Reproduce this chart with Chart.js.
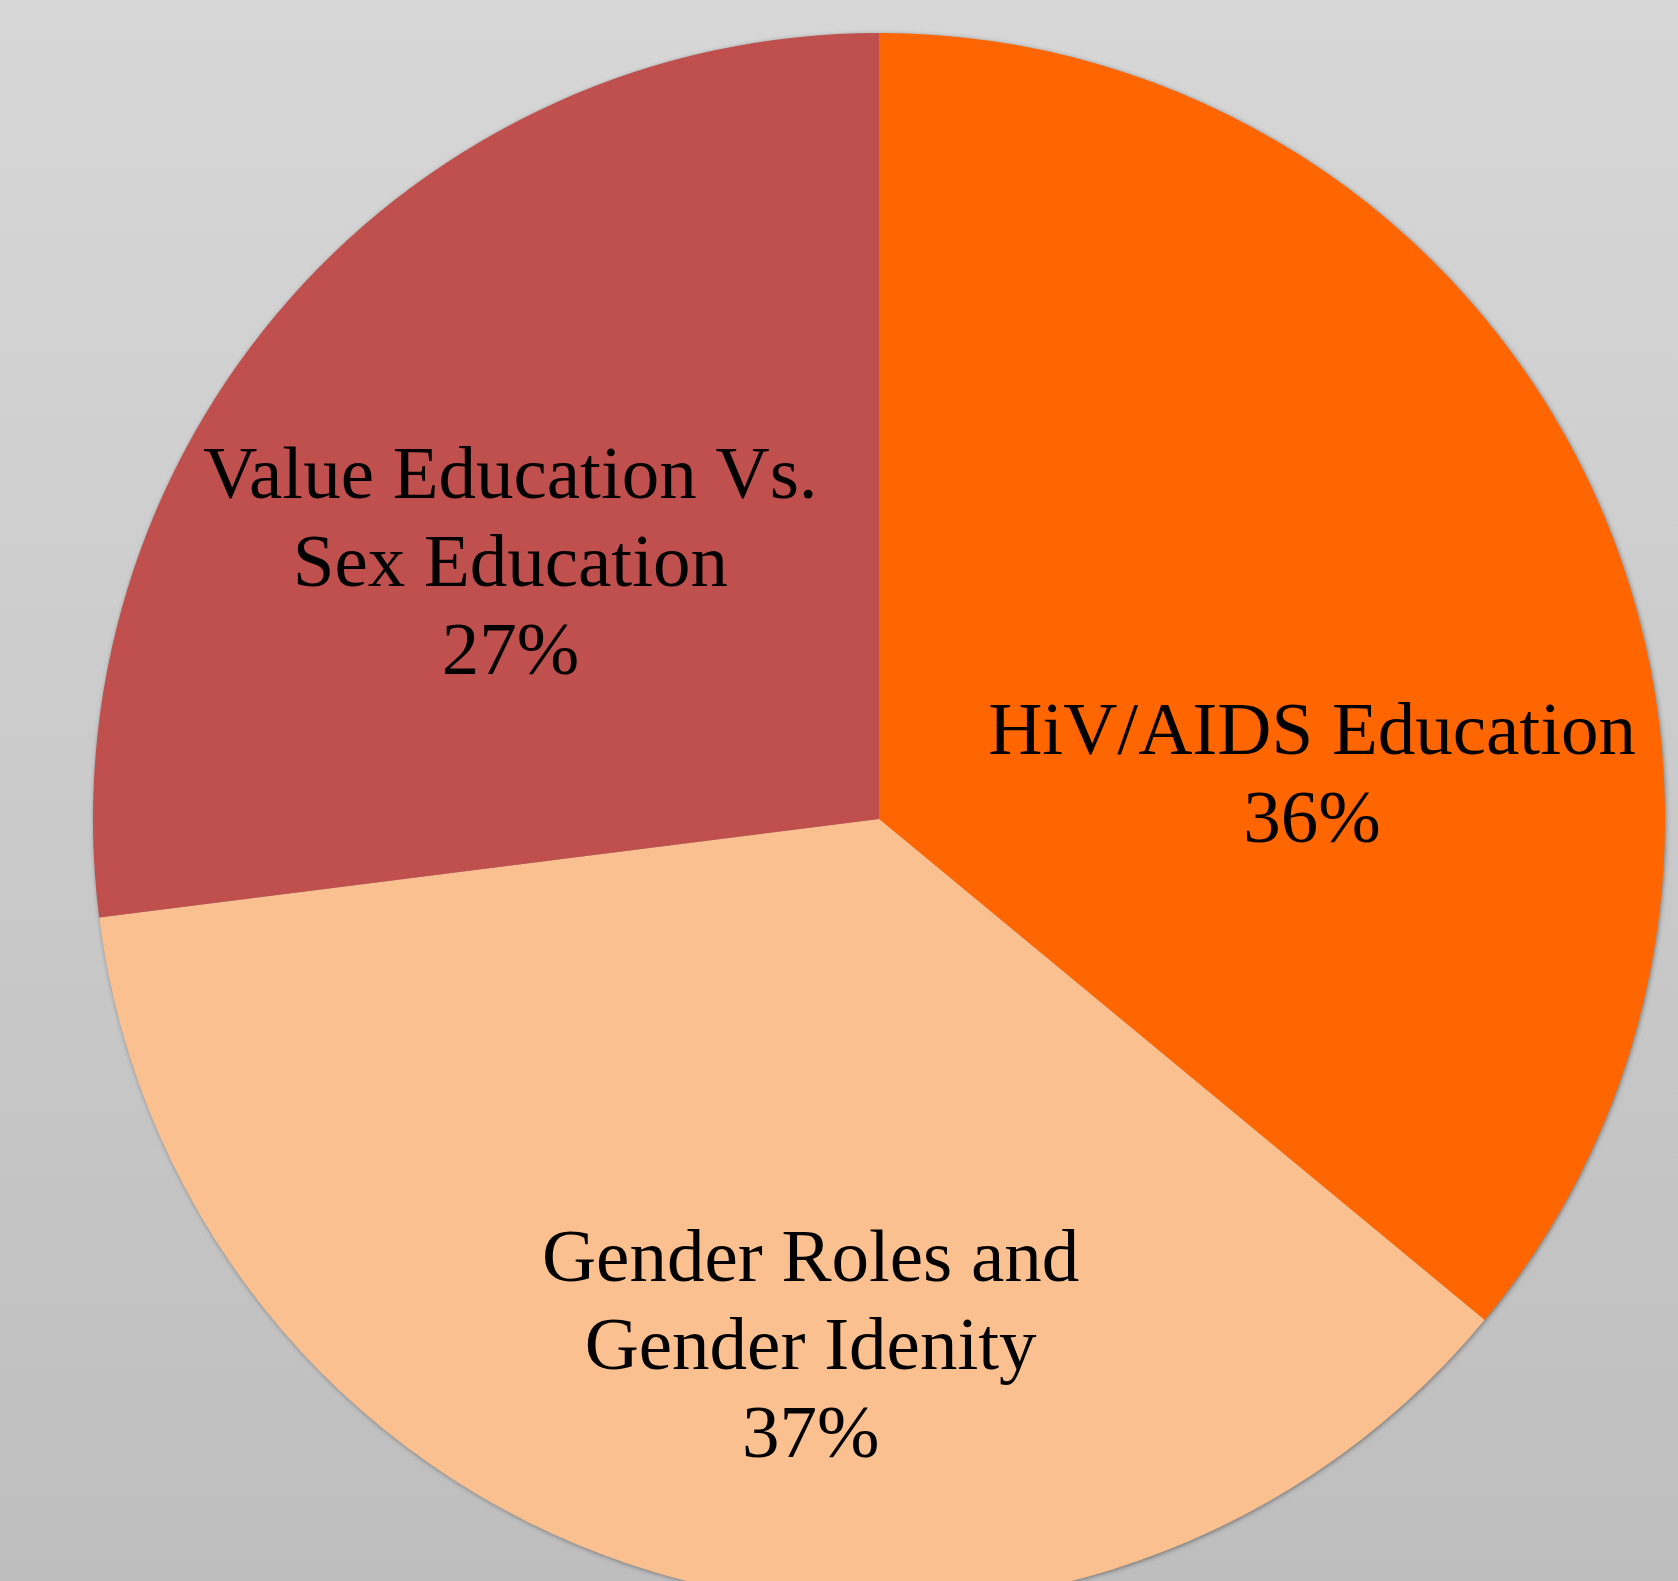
<!DOCTYPE html>
<html>
<head>
<meta charset="utf-8">
<script src="https://cdn.jsdelivr.net/npm/chart.js@4"></script>
<style>
  html, body { margin: 0; padding: 0; overflow: hidden; background: #cccccc; }
  #wrap { width: 1678px; height: 1581px; position: relative; }
</style>
</head>
<body>
<div id="wrap"><canvas id="c" width="1678" height="1581"></canvas></div>
<script>
// ---- data ----
const categories = ["HiV/AIDS Education", "Gender Roles and Gender Idenity", "Value Education Vs. Sex Education"];
const labelLines = [
  ["HiV/AIDS Education"],
  ["Gender Roles and", "Gender Idenity"],
  ["Value Education Vs.", "Sex Education"]
];
const shares = [36, 37, 27];
const sliceColors = ["#FF6600", "#FAC090", "#C0504D"];

// label anchor (first baseline) expressed relative to the pie centre, in units of the pie radius
const labelAnchors = [
  { dx: 0.551, dy: -0.083 },
  { dx: -0.087, dy: 0.588 },
  { dx: -0.469, dy: -0.408 }
];
const FONT_PX = 75;
const LINE_H = 88;

const bgPlugin = {
  id: 'bg',
  beforeDraw(chart) {
    const ctx = chart.ctx;
    const g = ctx.createLinearGradient(0, 0, 0, chart.height);
    g.addColorStop(0, '#D7D7D7');
    g.addColorStop(1, '#BEBEBE');
    ctx.save();
    ctx.fillStyle = g;
    ctx.fillRect(0, 0, chart.width, chart.height);
    ctx.restore();
  },
  beforeDatasetsDraw(chart) {
    const arc = chart.getDatasetMeta(0).data[0];
    if (!arc) return;
    const ctx = chart.ctx;
    ctx.save();
    ctx.shadowColor = 'rgba(0,0,0,0.45)';
    ctx.shadowBlur = 5;
    ctx.shadowOffsetX = 1;
    ctx.shadowOffsetY = 1;
    ctx.fillStyle = '#999999';
    ctx.beginPath();
    ctx.arc(arc.x, arc.y, arc.outerRadius - 0.5, 0, Math.PI * 2);
    ctx.fill();
    ctx.restore();
  }
};

const labelPlugin = {
  id: 'sliceLabels',
  afterDatasetsDraw(chart) {
    const meta = chart.getDatasetMeta(0);
    const ctx = chart.ctx;
    const total = shares.reduce((a, b) => a + b, 0);
    ctx.save();
    ctx.fillStyle = '#000000';
    ctx.textAlign = 'center';
    ctx.textBaseline = 'alphabetic';
    ctx.font = FONT_PX + 'px "Liberation Serif", "DejaVu Serif", serif';
    meta.data.forEach((arc, i) => {
      const r = arc.outerRadius;
      const x = arc.x + labelAnchors[i].dx * r;
      let y = arc.y + labelAnchors[i].dy * r;
      const pct = Math.round(shares[i] / total * 100) + '%';
      const lines = labelLines[i].concat([pct]);
      lines.forEach((t, k) => {
        ctx.fillText(t, x, y + k * LINE_H);
      });
    });
    ctx.restore();
  }
};

new Chart(document.getElementById('c'), {
  type: 'pie',
  data: {
    labels: categories,
    datasets: [{
      data: shares,
      backgroundColor: sliceColors,
      borderWidth: 0,
      clip: false
    }]
  },
  options: {
    responsive: false,
    animation: false,
    radius: 786,
    layout: { padding: { left: 90, right: 10, top: 67, bottom: 10 } },
    plugins: {
      legend: { display: false },
      tooltip: { enabled: false }
    }
  },
  plugins: [bgPlugin, labelPlugin]
});
</script>
</body>
</html>
